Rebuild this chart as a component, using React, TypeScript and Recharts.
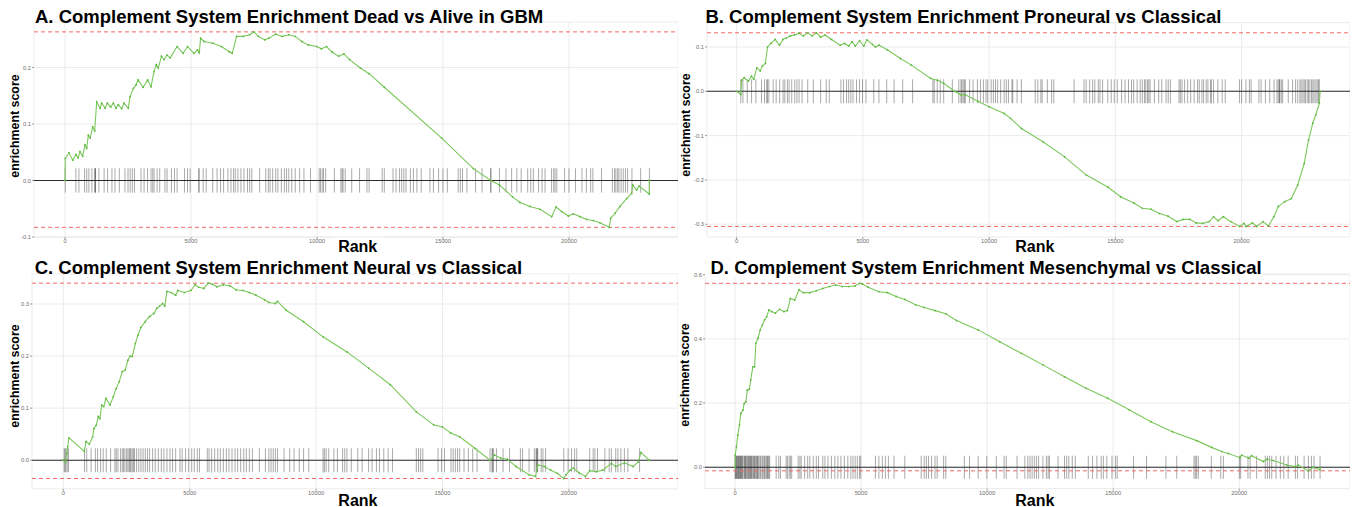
import React from 'react';
import { ComposedChart, Line, XAxis, YAxis, CartesianGrid, ReferenceLine } from 'recharts';

// ---------- shared ----------
const X_TICKS = [0, 5000, 10000, 15000, 20000];
const TITLES = [
  'A. Complement System Enrichment Dead vs Alive in GBM',
  'B. Complement System Enrichment Proneural vs Classical',
  'C. Complement System Enrichment Neural vs Classical',
  'D. Complement System Enrichment Mesenchymal vs Classical',
];
const X_LABEL = 'Rank';
const Y_LABEL = 'enrichment score';

// ---------- Panel A : Dead vs Alive ----------
const ranksA = [0, 10, 159, 304, 437, 520, 595, 700, 794, 860, 925, 1000, 1098, 1177, 1257, 1389, 1455, 1587, 1680, 1812, 1918, 2024, 2116, 2249, 2341, 2513, 2579, 2712, 2818, 2896, 3103, 3276, 3413, 3534, 3620, 3700, 3827, 3930, 4051, 4172, 4448, 4689, 4862, 5120, 5258, 5330, 5379, 5517, 5862, 6206, 6517, 6637, 6810, 7068, 7327, 7500, 7672, 7930, 8103, 8361, 8620, 8879, 9137, 9396, 9654, 9999, 10172, 10379, 10603, 10861, 11068, 11292, 11723, 12068, 12671, 14947, 16206, 16895, 17240, 17757, 18056, 18452, 18849, 19312, 19484, 19710, 19974, 20172, 20437, 20701, 20966, 21230, 21600, 21654, 21825, 22024, 22288, 22487, 22526, 22685, 22778, 23187, 23190];
const scoresA = [0, 0.039, 0.049, 0.036, 0.046, 0.04, 0.051, 0.043, 0.063, 0.057, 0.08, 0.075, 0.095, 0.088, 0.139, 0.128, 0.137, 0.128, 0.137, 0.13, 0.137, 0.128, 0.134, 0.127, 0.137, 0.128, 0.148, 0.163, 0.169, 0.178, 0.165, 0.178, 0.166, 0.193, 0.205, 0.199, 0.22, 0.214, 0.222, 0.217, 0.237, 0.225, 0.237, 0.225, 0.231, 0.226, 0.252, 0.246, 0.243, 0.237, 0.228, 0.225, 0.255, 0.255, 0.258, 0.263, 0.255, 0.249, 0.252, 0.259, 0.255, 0.258, 0.255, 0.246, 0.24, 0.237, 0.233, 0.237, 0.227, 0.22, 0.224, 0.214, 0.199, 0.189, 0.165, 0.075, 0.021, 0, -0.008, -0.029, -0.039, -0.046, -0.051, -0.064, -0.047, -0.055, -0.063, -0.059, -0.064, -0.069, -0.071, -0.075, -0.083, -0.067, -0.058, -0.046, -0.032, -0.023, -0.008, -0.017, -0.01, -0.024, 0];
const hitsA = [10, 431, 552, 776, 862, 948, 1069, 1172, 1207, 1210, 1345, 1552, 1690, 1862, 1983, 2155, 2379, 2500, 2586, 2672, 2758, 3017, 3138, 3276, 3414, 3482, 3534, 3655, 3758, 3965, 4051, 4224, 4344, 4448, 4741, 4862, 4965, 5310, 5320, 5482, 5603, 5862, 6034, 6172, 6293, 6465, 6586, 6689, 6758, 6862, 6982, 7103, 7241, 7327, 7413, 7724, 7965, 8068, 8137, 8241, 8361, 8448, 8586, 8706, 8792, 8879, 8999, 9137, 9310, 9482, 9741, 10085, 10137, 10206, 10258, 10344, 10689, 10947, 10999, 11034, 11120, 11378, 11689, 11982, 12068, 12585, 12671, 13016, 13137, 13275, 13361, 13447, 13533, 13706, 13826, 13964, 14137, 14482, 14620, 14826, 14999, 15171, 15602, 15688, 15775, 15947, 16292, 16550, 16895, 16900, 17240, 17499, 17723, 17930, 18102, 18361, 18482, 18585, 18792, 18930, 19050, 19309, 19395, 19447, 19516, 19826, 19998, 20257, 20516, 20688, 20860, 20947, 21291, 21722, 21808, 21860, 21929, 21981, 22067, 22153, 22240, 22326, 22498, 22843, 23190];
const yTicksA = [-0.1, 0, 0.1, 0.2];

// ---------- Panel B : Proneural vs Classical ----------
const ranksB = [0, 165, 200, 300, 470, 590, 680, 800, 935, 1020, 1140, 1225, 1360, 1530, 1700, 1840, 1960, 2130, 2300, 2470, 2645, 2815, 2990, 3160, 3330, 3500, 3760, 4100, 4270, 4440, 4577, 4700, 4870, 5040, 5160, 5380, 5500, 5640, 5980, 6490, 6920, 7690, 7950, 8200, 8630, 8890, 9060, 9570, 10000, 10600, 10850, 11280, 12135, 12990, 13850, 14700, 15210, 15730, 16070, 16410, 16750, 17090, 17440, 17690, 17950, 18200, 18460, 18720, 18890, 19060, 19280, 19570, 19915, 20090, 20170, 20430, 20600, 20850, 21060, 21280, 21450, 21710, 21970, 22220, 22480, 22650, 22820, 22940, 23080, 23110];
const scoresB = [0, -0.007, 0.025, 0.031, 0.023, 0.034, 0.027, 0.053, 0.046, 0.057, 0.063, 0.1, 0.108, 0.117, 0.104, 0.117, 0.12, 0.125, 0.127, 0.131, 0.125, 0.132, 0.125, 0.132, 0.122, 0.127, 0.117, 0.104, 0.108, 0.102, 0.112, 0.102, 0.114, 0.102, 0.116, 0.106, 0.1, 0.104, 0.093, 0.074, 0.059, 0.029, 0.025, 0.018, 0, -0.008, -0.008, -0.023, -0.035, -0.05, -0.061, -0.084, -0.114, -0.148, -0.189, -0.216, -0.238, -0.252, -0.264, -0.266, -0.276, -0.282, -0.294, -0.289, -0.289, -0.297, -0.298, -0.294, -0.283, -0.292, -0.283, -0.294, -0.305, -0.298, -0.305, -0.297, -0.305, -0.294, -0.304, -0.283, -0.26, -0.249, -0.242, -0.212, -0.163, -0.11, -0.072, -0.053, -0.027, 0];
const hitsB = [165, 250, 421, 593, 764, 986, 1106, 1191, 1225, 1277, 1448, 1567, 1704, 1841, 1909, 2012, 2080, 2183, 2303, 2388, 2474, 2593, 2816, 3038, 3329, 3551, 3671, 4132, 4235, 4355, 4440, 4526, 4611, 4748, 4868, 4987, 5124, 5432, 5637, 5945, 6236, 6578, 6971, 7775, 7826, 7946, 8065, 8202, 8544, 8801, 8886, 8920, 8972, 9023, 9057, 9228, 9365, 9536, 9656, 9775, 9878, 9946, 10083, 10169, 10254, 10340, 10459, 10596, 10682, 10767, 10904, 10938, 11109, 11280, 11827, 11930, 12050, 12101, 12306, 12477, 12563, 13366, 13760, 13845, 13982, 14102, 14187, 14324, 14392, 14495, 14700, 14837, 14957, 15076, 15247, 15384, 15521, 15641, 15726, 15863, 15983, 16068, 16154, 16205, 16273, 16325, 16376, 16547, 16718, 16838, 17009, 17094, 17180, 17522, 17573, 17641, 17744, 17864, 17983, 18120, 18257, 18325, 18428, 18496, 18599, 18667, 18770, 18804, 18890, 19061, 19232, 19351, 19916, 20001, 20172, 20309, 20377, 20685, 20771, 20942, 21113, 21284, 21403, 21455, 21506, 21510, 21574, 21626, 21848, 22019, 22139, 22224, 22310, 22361, 22429, 22481, 22532, 22600, 22652, 22703, 22771, 22823, 22874, 22942, 22994, 23045, 23079];
const yTicksB = [-0.3, -0.2, -0.1, 0, 0.1];

// ---------- Panel C : Neural vs Classical ----------
const ranksC = [0, 92, 134, 174, 225, 831, 898, 1030, 1162, 1215, 1300, 1385, 1450, 1519, 1600, 1689, 1847, 1978, 2094, 2214, 2334, 2450, 2557, 2643, 2728, 2848, 2951, 3071, 3243, 3414, 3586, 3706, 3810, 3929, 4015, 4101, 4272, 4444, 4530, 4787, 5045, 5216, 5353, 5559, 5731, 5902, 6074, 6331, 6588, 6846, 7103, 7360, 7618, 7961, 8132, 8389, 8475, 8818, 9504, 10276, 11220, 12078, 12936, 13965, 14651, 14994, 15337, 15680, 16281, 16881, 17053, 17310, 17560, 17910, 18425, 18682, 18768, 19025, 19282, 19539, 19797, 19880, 20055, 20175, 20400, 20655, 20827, 21084, 21340, 21680, 21850, 22199, 22543, 22748, 22852, 23178];
const scoresC = [0, -0.004, 0.013, 0.026, 0.043, 0.017, 0.036, 0.031, 0.045, 0.061, 0.067, 0.084, 0.08, 0.106, 0.103, 0.119, 0.106, 0.122, 0.138, 0.151, 0.17, 0.173, 0.192, 0.2, 0.199, 0.224, 0.24, 0.255, 0.266, 0.276, 0.282, 0.292, 0.296, 0.301, 0.296, 0.324, 0.322, 0.317, 0.326, 0.322, 0.326, 0.337, 0.332, 0.33, 0.34, 0.338, 0.333, 0.337, 0.335, 0.327, 0.326, 0.322, 0.317, 0.308, 0.303, 0.301, 0.305, 0.288, 0.266, 0.237, 0.208, 0.177, 0.145, 0.093, 0.068, 0.064, 0.052, 0.045, 0.023, 0, 0.01, 0.004, 0.002, -0.012, -0.028, -0.031, -0.009, -0.012, -0.019, -0.025, -0.035, -0.028, -0.019, -0.015, -0.024, -0.031, -0.02, -0.022, -0.019, -0.006, -0.012, -0.005, -0.012, -0.003, 0.015, 0];
const hitsC = [35, 69, 104, 155, 206, 841, 927, 1099, 1270, 1356, 1476, 1579, 1699, 1871, 2042, 2094, 2162, 2265, 2334, 2385, 2437, 2505, 2557, 2608, 2643, 2677, 2728, 2780, 2814, 2900, 2986, 3071, 3157, 3243, 3329, 3414, 3535, 3637, 3758, 3878, 3981, 4101, 4221, 4324, 4444, 4615, 4701, 4838, 4958, 5079, 5181, 5302, 5387, 5696, 5765, 5868, 5988, 6108, 6211, 6331, 6451, 6554, 6674, 6794, 6897, 7017, 7137, 7240, 7360, 7480, 7755, 7995, 8132, 8218, 8304, 8389, 8475, 8733, 8956, 9127, 9333, 9505, 9710, 10276, 10328, 10397, 10500, 10705, 10843, 11048, 11134, 11220, 11392, 11649, 11820, 12078, 12215, 12387, 12507, 12678, 12850, 13021, 13965, 14051, 14136, 14222, 14823, 14960, 15080, 15337, 15423, 15509, 15595, 15680, 15852, 16023, 16195, 16367, 16881, 16967, 16970, 17018, 17138, 17396, 17653, 18082, 18168, 18425, 18631, 18700, 18734, 18740, 18768, 18905, 18974, 19077, 19798, 19969, 20106, 20226, 20312, 20823, 20960, 21029, 21132, 21424, 21595, 21681, 21853, 21939, 22058, 22195, 22333, 22796];
const yTicksC = [0, 0.1, 0.2, 0.3];

// ---------- Panel D : Mesenchymal vs Classical ----------
const ranksD = [0, 5, 57, 108, 177, 228, 314, 365, 433, 485, 570, 622, 707, 776, 827, 913, 998, 1084, 1170, 1255, 1341, 1450, 1598, 1769, 1940, 2077, 2197, 2368, 2539, 2710, 2967, 3224, 3481, 3738, 3994, 4251, 4508, 4765, 4936, 5056, 5278, 5706, 6049, 6391, 6734, 7162, 7504, 7932, 8360, 8788, 9644, 10500, 11356, 12212, 13068, 13924, 14780, 15636, 16492, 17348, 18310, 18905, 19302, 19566, 20028, 20094, 20384, 20490, 20953, 21100, 21349, 21879, 22209, 22341, 22737, 22909, 23201, 23205];
const scoresD = [0, 0.038, 0.064, 0.1, 0.132, 0.168, 0.178, 0.199, 0.204, 0.24, 0.243, 0.272, 0.313, 0.313, 0.386, 0.402, 0.428, 0.443, 0.459, 0.469, 0.49, 0.485, 0.48, 0.492, 0.485, 0.488, 0.526, 0.521, 0.553, 0.544, 0.544, 0.55, 0.557, 0.563, 0.568, 0.563, 0.563, 0.565, 0.573, 0.571, 0.561, 0.547, 0.544, 0.532, 0.523, 0.506, 0.498, 0.488, 0.478, 0.457, 0.428, 0.391, 0.355, 0.319, 0.282, 0.246, 0.215, 0.179, 0.142, 0.111, 0.083, 0.062, 0.049, 0.043, 0.03, 0.038, 0.028, 0.036, 0.018, 0.025, 0.021, 0.007, 0.002, 0.007, -0.011, 0, -0.008, 0];
const hitsD = [5, 20, 57, 75, 91, 120, 142, 165, 194, 210, 228, 260, 279, 300, 348, 380, 399, 420, 451, 490, 519, 545, 570, 600, 622, 650, 673, 710, 742, 770, 793, 830, 861, 890, 913, 950, 998, 1030, 1084, 1120, 1170, 1200, 1255, 1280, 1307, 1340, 1375, 1632, 1735, 1803, 2026, 2077, 2145, 2197, 2248, 2505, 2573, 2625, 2762, 2882, 2967, 3104, 3224, 3310, 3481, 3566, 3686, 3823, 3960, 4080, 4200, 4337, 4474, 4594, 4679, 4765, 4850, 4936, 4987, 5569, 5706, 5843, 5963, 6083, 6306, 6734, 7384, 7504, 7590, 7675, 7795, 7932, 8018, 8274, 8360, 9096, 9302, 9644, 9986, 10363, 10671, 10757, 11185, 11493, 11613, 11698, 11784, 11870, 11955, 12041, 12212, 12349, 12417, 12469, 12811, 13068, 13154, 13239, 13376, 13496, 14010, 14181, 14352, 14523, 14609, 14746, 14951, 15088, 15157, 15807, 16321, 17091, 17519, 18204, 18255, 18307, 18375, 18889, 19265, 19368, 20002, 20053, 20344, 20430, 20686, 21029, 21114, 21200, 21286, 21457, 21628, 21765, 21937, 22227, 22313, 22570, 22741, 22861, 22963, 23203];
const yTicksD = [0, 0.2, 0.4, 0.6];

// ---------- styling / layout ----------
const FONT = '"Liberation Sans", Arial, Helvetica, sans-serif';
const CURVE_COLOR = '#7cc85c';
const DOT_COLOR = '#5cb83e';
const RED = '#f26861';

type Cfg = {
  left: number; top: number; width: number; height: number;
  marginTop: number; yw: number; xh: number;
  xDomain: [number, number]; yDomain: [number, number];
  yTicks: number[]; ranks: number[]; scores: number[]; hits: number[]; hitHalf: number;
};

const panels: Cfg[] = [
  { left: 0, top: 0, width: 678, height: 249.2, marginTop: 22, yw: 34, xh: 12,
    xDomain: [-1230, 24325], yDomain: [-0.1004, 0.2805], yTicks: yTicksA,
    ranks: ranksA, scores: scoresA, hits: hitsA, hitHalf: 0.0216 },
  { left: 676, top: 0, width: 674, height: 249.1, marginTop: 22.6, yw: 31, xh: 12,
    xDomain: [-1172, 24293], yDomain: [-0.329, 0.155], yTicks: yTicksB,
    ranks: ranksB, scores: scoresB, hits: hitsB, hitHalf: 0.027 },
  { left: 0, top: 250, width: 678, height: 250.8, marginTop: 23.9, yw: 32, xh: 12,
    xDomain: [-1238, 24316], yDomain: [-0.0548, 0.3578], yTicks: yTicksC,
    ranks: ranksC, scores: scoresC, hits: hitsC, hitHalf: 0.023 },
  { left: 676, top: 250, width: 674, height: 250.6, marginTop: 23.9, yw: 29, xh: 12,
    xDomain: [-1190, 24390], yDomain: [-0.0664, 0.6024], yTicks: yTicksD,
    ranks: ranksD, scores: scoresD, hits: hitsD, hitHalf: 0.036 },
];

const tickStyle = { fontSize: 5.8, fill: '#6e6e6e', fontFamily: FONT };

function Panel({ cfg }: { cfg: Cfg }) {
  const data = cfg.ranks.map((r, i) => ({ rank: r, es: cfg.scores[i] }));
  const esMax = Math.max(...cfg.scores);
  const esMin = Math.min(...cfg.scores);
  return (
    <div style={{ position: 'absolute', left: cfg.left, top: cfg.top }}>
      <ComposedChart width={cfg.width} height={cfg.height} data={data}
        margin={{ top: cfg.marginTop, right: 0, bottom: 0, left: 0 }}>
        <CartesianGrid stroke="#ebebeb" strokeWidth={1} />
        <XAxis dataKey="rank" type="number" domain={cfg.xDomain} allowDataOverflow
          ticks={X_TICKS} interval={0} height={cfg.xh} tickSize={2} tickMargin={0}
          axisLine={false} tickLine={{ stroke: '#9a9a9a' }} tick={tickStyle} />
        <YAxis type="number" domain={cfg.yDomain} allowDataOverflow ticks={cfg.yTicks}
          interval={0} width={cfg.yw} tickSize={2} tickMargin={1} axisLine={false}
          tickLine={{ stroke: '#9a9a9a' }} tick={tickStyle}
          tickFormatter={(v: number) => v.toFixed(1)} />
        {cfg.hits.map((h, i) => (
          <ReferenceLine key={'h' + i}
            segment={[{ x: h, y: -cfg.hitHalf }, { x: h, y: cfg.hitHalf }]}
            stroke="#000" strokeOpacity={0.34} strokeWidth={1} />
        ))}
        <ReferenceLine y={0} stroke="#2b2b2b" strokeWidth={1.1} />
        <ReferenceLine y={esMax} stroke={RED} strokeWidth={1} strokeDasharray="4 3" />
        <ReferenceLine y={esMin} stroke={RED} strokeWidth={1} strokeDasharray="4 3" />
        <Line dataKey="es" type="linear" stroke={CURVE_COLOR} strokeWidth={1.1}
          dot={{ r: 0.9, fill: DOT_COLOR, stroke: 'none' }} activeDot={false}
          isAnimationActive={false} />
      </ComposedChart>
    </div>
  );
}

const titlePos = [[35, 23.3], [705.4, 23.3], [34.7, 274], [710.5, 274]];
const yLabelPos = [[19.4, 126], [690, 125], [19, 376], [689.3, 375]];
const rankPos = [[357.7, 251.5], [1034.8, 251.5], [357.9, 505.5], [1034.8, 505.5]];

export default function App() {
  return (
    <div style={{ position: 'absolute', left: 0, top: 0, width: 1353, height: 507, background: '#fff', overflow: 'hidden' }}>
      {panels.map((p, i) => <Panel key={i} cfg={p} />)}
      <svg width={1353} height={507} style={{ position: 'absolute', left: 0, top: 0, pointerEvents: 'none' }}>
        <rect x={705} y={256} width={558} height={21} fill="#fff" />
        {rankPos.map(([x, y], i) => (
          <rect key={'rb' + i} x={x - 26} y={y - 14} width={52} height={17} fill="#fff" />
        ))}
        {TITLES.map((t, i) => (
          <text key={'t' + i} x={titlePos[i][0]} y={titlePos[i][1]} fontFamily={FONT}
            fontWeight="bold" fontSize={18.5} fill="#000">{t}</text>
        ))}
        {yLabelPos.map(([x, y], i) => (
          <text key={'y' + i} transform={`translate(${x},${y}) rotate(-90)`} textAnchor="middle"
            fontFamily={FONT} fontWeight="bold" fontSize={12.4} fill="#000">{Y_LABEL}</text>
        ))}
        {rankPos.map(([x, y], i) => (
          <text key={'r' + i} x={x} y={y} textAnchor="middle" fontFamily={FONT}
            fontWeight="bold" fontSize={16} fill="#000">{X_LABEL}</text>
        ))}
      </svg>
    </div>
  );
}
